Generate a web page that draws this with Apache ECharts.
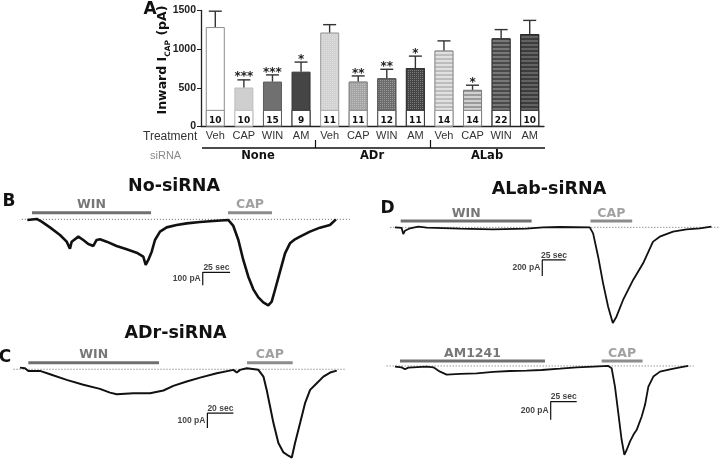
<!DOCTYPE html>
<html><head><meta charset="utf-8">
<script src="https://cdn.jsdelivr.net/npm/echarts@6/dist/echarts.min.js"></script>
<style>html,body{margin:0;padding:0;background:#fff}#c{width:720px;height:462px}</style>
</head><body><div id="c"></div>
<script>
// ---------- Panel A data ----------
const categories = ['Veh','CAP','WIN','AM','Veh','CAP','WIN','AM','Veh','CAP','WIN','AM'];
const groups = ['None','ADr','ALab'];
const means = [1286,504,581,709,1214,581,624,756,983,474,1141,1196];
const sems = [205,99,86,124,103,73,116,154,124,60,112,176];
const nCells = [10,10,15,9,11,11,12,11,14,14,22,10];
const stars = ['','***','***','*','','**','**','*','','*','',''];
const yTicks = [0,500,1000,1500];

// ---------- Traces: [time (s), current (pA)] ----------
const traceB = [[0,-5],[8.5,3],[13.1,-18],[20.7,-62],[29.9,-121],[36.0,-172],[39.0,-226],[40.6,-172],[46.7,-133],[51.2,-159],[55.8,-190],[60.4,-205],[63.4,-159],[66.5,-154],[72.6,-172],[81.7,-205],[90.9,-231],[100.0,-257],[106.1,-287],[108.3,-350],[110.7,-313],[113.8,-249],[116.8,-159],[121.4,-95],[127.5,-62],[136.6,-44],[145.8,-31],[158.0,-21],[170.2,-13],[183.9,-5],[188.5,-51],[193.1,-159],[197.6,-313],[202.2,-442],[206.8,-539],[211.4,-601],[215.9,-639],[220.5,-662],[223.6,-634],[226.6,-544],[231.2,-403],[235.8,-262],[240.3,-185],[244.9,-154],[249.5,-133],[258.6,-95],[267.8,-64],[276.9,-44],[282.4,0]];
const traceD = [[0,0],[7.1,-8],[8.9,-83],[10.7,-42],[16.1,-12],[25,8],[33.9,-4],[69.6,-17],[105.3,-25],[141,-17],[158.9,0],[176.7,4],[208.8,0],[212.4,-75],[217.8,-367],[223.1,-700],[228.5,-992],[233.5,-1196],[237.4,-1117],[244.5,-908],[255.3,-658],[266,-450],[274.9,-221],[276.7,-179],[283.8,-117],[298.1,-54],[312.4,-25],[326.7,-12],[339.2,8]];
const traceC = [[0,11],[3.8,7],[6.4,-11],[15.4,-11],[23.1,-33],[35.9,-71],[48.7,-104],[61.5,-131],[69.2,-156],[74.4,-167],[87.2,-160],[100,-160],[110.3,-142],[117.9,-111],[128.2,-82],[138.5,-56],[151.3,-27],[164.1,-4],[166.7,-22],[169.2,-4],[174.4,7],[183.3,-4],[187.2,-49],[189.7,-138],[192.3,-249],[194.9,-360],[198.7,-493],[202.6,-556],[206.4,-578],[209,-590],[211.5,-493],[215.4,-360],[219.2,-227],[223.1,-138],[228.2,-93],[233.3,-49],[238.5,-22],[243.6,-9]];
const traceD2 = [[0,-7],[6.4,-15],[9.6,-36],[12.8,-18],[30.4,-7],[36.9,-15],[43.3,-62],[49.7,-95],[62.5,-87],[78.5,-80],[94.5,-65],[110.6,-55],[126.6,-51],[141,-44],[158.6,-29],[174.7,-15],[190.7,-7],[205.1,0],[208.3,-25],[211.5,-225],[214.7,-516],[217.9,-807],[220.5,-971],[222.8,-916],[226,-825],[229.2,-753],[232.4,-698],[237.2,-553],[240.4,-425],[243.6,-225],[248.4,-116],[254.8,-62],[264.4,-36],[274,-15],[282,0]];

// drug application bars: label, start (s), end (s)
const appLabelsB = ['WIN','CAP'], appStartB = [4.3,183.6], appEndB = [113.2,223.9];
const appLabelsD = ['WIN','CAP'], appStartD = [6.1,209.6], appEndD = [146.5,254.3];
const appLabelsC = ['WIN','CAP'], appStartC = [6.4,174.6], appEndC = [106.9,209.7];
const appLabelsD2 = ['AM1241','CAP'], appStartD2 = [4.8,198.7], appEndD2 = [144.2,238];
// scale bars: seconds, pA
const scaleSec = [25,25,20,25];
const scalePA = [100,200,100,200];

// ---------- styles ----------
const dots = {symbol:'rect',symbolSize:1,dashArrayX:[1,1],dashArrayY:[1,1],color:'rgba(255,255,255,0.3)'};
const stripes = {symbol:'rect',symbolSize:1,dashArrayX:[1,0],dashArrayY:[2,2],color:'rgba(255,255,255,0.55)'};
const barStyles = [
 {color:'#ffffff',borderColor:'#8c8c8c'},
 {color:'#cfcfcf',borderColor:'#bdbdbd'},
 {color:'#707070',borderColor:'#5a5a5a'},
 {color:'#454545',borderColor:'#333'},
 {color:'#d2d2d2',borderColor:'#a8a8a8',decal:dots},
 {color:'#a4a4a4',borderColor:'#888',decal:dots},
 {color:'#6c6c6c',borderColor:'#555',decal:dots},
 {color:'#444',borderColor:'#333',decal:dots},
 {color:'#bdbdbd',borderColor:'#999',decal:stripes},
 {color:'#9a9a9a',borderColor:'#808080',decal:stripes},
 {color:'#4a4a4a',borderColor:'#383838',decal:{...stripes,color:'rgba(255,255,255,0.25)'}},
 {color:'#3c3c3c',borderColor:'#2a2a2a',decal:{...stripes,color:'rgba(255,255,255,0.2)'}}
];
const nBoxTop = 215;

// trace panels: grid geometry & axis ranges
const panels = [
 {trace:traceB, labels:appLabelsB, st:appStartB, en:appEndB, appY:51, scT0:160.5, scY0:-408, grid:{left:20.77,top:199.85,width:330.05,height:116.88}, x:[-6,296], y:[-750,150], lw:2.6},
 {trace:traceD, labels:appLabelsD, st:appStartD, en:appEndD, appY:79, scT0:157.9, scY0:-408, grid:{left:389.4,top:215.33,width:330.2,height:112}, x:[-6,348], y:[-1250,150], lw:1.8},
 {trace:traceC, labels:appLabelsC, st:appStartC, en:appEndC, appY:44, scT0:144.1, scY0:-293, grid:{left:12.2,top:346.83,width:335.5,height:115.5}, x:[-6,252], y:[-620,150], lw:2},
 {trace:traceD2, labels:appLabelsD2, st:appStartD2, en:appEndD2, appY:54.5, scT0:149.7, scY0:-389, grid:{left:385.64,top:356.83,width:308.9,height:105.5}, x:[-9,288], y:[-1050,100], lw:1.8}
];

const grids = [{left:201, top:10.5, width:343, height:116}];
const xAxes = [{type:'category', data:categories, gridIndex:0,
  axisLine:{lineStyle:{color:'#222',width:1.3}},
  axisTick:{alignWithLabel:true,length:3,lineStyle:{color:'#222'}},
  axisLabel:{interval:0,color:'#333',fontSize:11,fontFamily:'Liberation Sans, Arial',margin:4}}];
const yAxes = [{type:'value', gridIndex:0, min:yTicks[0], max:yTicks[yTicks.length-1], interval:500,
  axisLine:{show:true,lineStyle:{color:'#222',width:1.3}},
  axisTick:{show:true,length:4,lineStyle:{color:'#222'}},
  splitLine:{show:false},
  axisLabel:{formatter:v=>String(v),color:'#222',fontSize:10.5,fontWeight:'bold',fontFamily:'Liberation Sans, Arial',margin:5}}];

const series = [
 {type:'bar', xAxisIndex:0, yAxisIndex:0, barWidth:19, barGap:'-100%', z:2,
  data: means.map((v,i)=>({value:v, itemStyle:Object.assign({borderWidth:1}, barStyles[i])}))},
 {type:'bar', xAxisIndex:0, yAxisIndex:0, barWidth:19, barGap:'-100%', z:3,
  data: nCells.map((n,i)=>({value:nBoxTop, itemStyle:{color:'#fff',borderColor:barStyles[i].borderColor,borderWidth:1},
   label:{show:true,position:'inside',formatter:String(n),fontSize:9,fontWeight:'bold',fontFamily:'DejaVu Sans',color:'#111',offset:[0,2]}}))},
 {type:'custom', xAxisIndex:0, yAxisIndex:0, z:5,
  data: means.map((m,i)=>[i,m,m+sems[i]]),
  renderItem:(params,api)=>{
    const i = params.dataIndex;
    const p0 = api.coord([api.value(0),api.value(1)]);
    const p1 = api.coord([api.value(0),api.value(2)]);
    const w = 6.5;
    const ch = [
      {type:'line',shape:{x1:p0[0],y1:p0[1],x2:p1[0],y2:p1[1]},style:{stroke:'#333',lineWidth:1.4}},
      {type:'line',shape:{x1:p1[0]-w,y1:p1[1],x2:p1[0]+w,y2:p1[1]},style:{stroke:'#333',lineWidth:1.4}}
    ];
    if (stars[i]) ch.push({type:'text',style:{text:stars[i],x:p1[0],y:p1[1]+3.5,align:'center',verticalAlign:'bottom',font:'bold 12px DejaVu Sans',fill:'#222'}});
    return {type:'group',children:ch};
  }}
];

panels.forEach((p,k)=>{
  const g = k+1;
  grids.push(p.grid);
  xAxes.push({type:'value',gridIndex:g,min:p.x[0],max:p.x[1],show:false});
  yAxes.push({type:'value',gridIndex:g,min:p.y[0],max:p.y[1],show:false});
  const base = {xAxisIndex:g,yAxisIndex:g,symbol:'none',silent:true,animation:false};
  series.push(Object.assign({type:'line',data:[[p.x[0]+1,0],[p.x[1]-1,0]],lineStyle:{color:'#666',width:1,type:[1,2]},z:1},base));
  series.push(Object.assign({type:'line',data:p.trace,lineStyle:{color:'#111',width:p.lw},z:3},base));
  p.labels.forEach((lab,j)=>{
    const col = lab==='CAP' ? '#8c8c8c' : '#707070';
    series.push(Object.assign({type:'line',data:[[p.st[j],p.appY],[p.en[j],p.appY]],lineStyle:{color:col,width:3},z:2},base));
  });
  const t0=p.scT0, y0=p.scY0, ds=scaleSec[k], da=scalePA[k];
  series.push(Object.assign({type:'line',data:[[t0+ds,y0],[t0,y0],[t0,y0-da]],lineStyle:{color:'#111',width:1.2},z:2},base));
  const txt = [];
  p.labels.forEach((lab,j)=>{
    txt.push({value:[(p.st[j]+p.en[j])/2,p.appY],label:{formatter:lab,position:'top',distance:1,
      fontSize:12.5,fontWeight:'bold',fontFamily:'DejaVu Sans',color:lab==='CAP'?'#8a8a8a':'#555'}});
  });
  txt.push({value:[t0+ds/2,y0],label:{formatter:ds+' sec',position:'top',distance:0,fontSize:8.5,fontWeight:'bold',fontFamily:'Liberation Sans, Arial',color:'#111'}});
  txt.push({value:[t0,y0-da/2],label:{formatter:da+' pA',position:'left',distance:2,fontSize:8.5,fontWeight:'bold',fontFamily:'Liberation Sans, Arial',color:'#111'}});
  series.push({type:'scatter',xAxisIndex:g,yAxisIndex:g,symbolSize:0,silent:true,label:{show:true},data:txt,z:4});
});

const bold = (t,x,y,size,align,color)=>({type:'text',x:x,y:y,silent:true,
  style:{text:t,font:'bold '+size+'px DejaVu Sans',fill:color||'#111',align:align||'center',verticalAlign:'middle'}});

const graphic = [
  bold('A',150,10,17),
  bold('B',9,202,17),
  bold('C',5,358,17),
  bold('D',387.5,209,17),
  bold('No-siRNA',174,186,17.5),
  bold('ALab-siRNA',549,189.5,17.5),
  bold('ADr-siRNA',175.5,333.5,17.5),
  {type:'text',x:162,y:60,rotation:Math.PI/2,silent:true,
   style:{text:'{a|Inward I}{s|CAP}{a| (pA)}',align:'center',verticalAlign:'middle',
    rich:{a:{font:'bold 12.5px DejaVu Sans',fill:'#111',lineHeight:15,verticalAlign:'bottom'},
          s:{font:'bold 7.5px DejaVu Sans',fill:'#111',lineHeight:15,verticalAlign:'bottom',padding:[0,0,-3,0]}}}},
  {type:'text',x:143,y:136.5,silent:true,style:{text:'Treatment',font:'12px Liberation Sans',fill:'#333',align:'left',verticalAlign:'middle'}},
  {type:'text',x:150,y:155.5,silent:true,style:{text:'siRNA',font:'11px Liberation Sans',fill:'#8a8a8a',align:'left',verticalAlign:'middle'}},
  {type:'line',silent:true,shape:{x1:202,y1:148,x2:545,y2:148},style:{stroke:'#111',lineWidth:1.4}},
  {type:'line',silent:true,shape:{x1:315.5,y1:140,x2:315.5,y2:148},style:{stroke:'#111',lineWidth:1.2}},
  {type:'line',silent:true,shape:{x1:430.5,y1:140,x2:430.5,y2:148},style:{stroke:'#111',lineWidth:1.2}},
  bold(groups[0],258,156.5,11.5),
  bold(groups[1],372,156.5,11.5),
  bold(groups[2],487,156.5,11.5)
];

const chart = echarts.init(document.getElementById('c'));
chart.setOption({animation:false, backgroundColor:'#fff', grid:grids, xAxis:xAxes, yAxis:yAxes, series:series, graphic:graphic});
</script></body></html>
